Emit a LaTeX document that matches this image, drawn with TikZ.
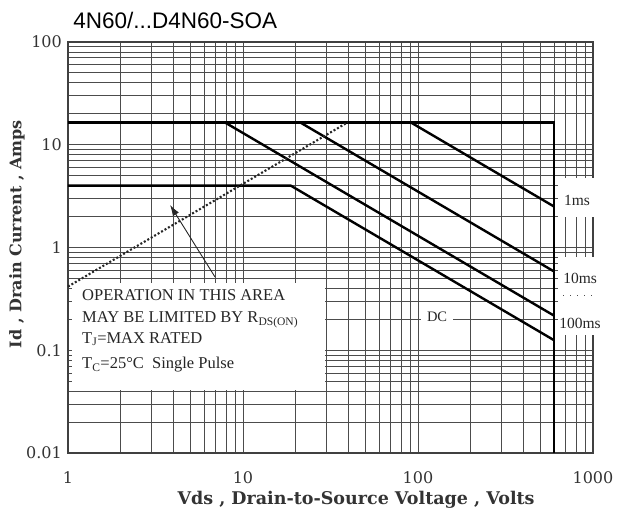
\documentclass[tikz,border=0pt]{standalone}
\usepackage{fontspec}
\setmainfont{Liberation Serif}
\newfontfamily\wideserif{DejaVu Serif}
\newfontfamily\titlesans{Liberation Sans}
\usetikzlibrary{arrows.meta}

\begin{document}
\begin{tikzpicture}[x=175pt,y=102.75pt]
        \tikzstyle{every node}+=[inner sep=0pt]
        \tikzstyle{gridline}=[black!70,line width=0.85pt]
        \tikzstyle{soaline}=[black,line width=2.4pt]
        \tikzstyle{ticklabel}=[font=\wideserif\fontsize{16}{16}\selectfont,text=black!80]
        \tikzstyle{axislabel}=[font=\wideserif\bfseries\fontsize{17.5}{17.5}\selectfont,text=black!80]
        \tikzstyle{curvelabel}=[font=\fontsize{15.5}{15.5}\selectfont,text=black!85]
        \tikzstyle{notetext}=[anchor=west,font=\fontsize{16.5}{16.5}\selectfont,text=black!85]
        \useasboundingbox (-68pt,-63pt) rectangle (554pt,453pt);
        % log grid
        \foreach \d in {0,1,2}
          \foreach \k in {2,...,9}
            \draw [gridline] ({\d+log10(\k)},0) -- ({\d+log10(\k)},4);
        \foreach \d in {0,1,2,3}
          \foreach \k in {2,...,9}
            \draw [gridline] (0,{\d+log10(\k)}) -- (3,{\d+log10(\k)});
        \draw [gridline] (1,0) -- (1,4);
        \draw [gridline] (2,0) -- (2,4);
        \foreach \d in {1,2,3}
          \draw [gridline] (0,\d) -- (3,\d);
        \draw [black!75,line width=1.2pt] (0,0) rectangle (3,4);
        \fill [white] (0.023,0.613) rectangle (1.469,1.655);
        \fill [white] (2.8,2.297) rectangle (3.02,2.676);
        \fill [white] (2.8,1.148) rectangle (3.02,1.908);
        % limits
        \coordinate (idm) at (0,{log10(16.5)+2});
        \coordinate (idmend) at ({log10(600)},{log10(16.5)+2});
        \coordinate (vdss) at ({log10(600)},0);
        \draw [soaline] (idm) -- (idmend) -- (vdss);
        \foreach \p in {1500,350,130}
          \draw [soaline] ({log10(\p/16.5)},{log10(16.5)+2}) -- ({log10(600)},{log10(\p/600)+2});
        \coordinate (idc) at (0,{log10(4)+2});
        \coordinate (dcknee) at ({log10(75/4)},{log10(4)+2});
        \coordinate (dcend) at ({log10(600)},{log10(75/600)+2});
        \draw [soaline] (idc) -- (dcknee) -- (dcend);
        \coordinate (ron0) at (0,{log10(1/2.4)+2});
        \coordinate (ron1) at ({log10(16.5*2.4)},{log10(16.5)+2});
        \draw [black!85,line width=2.1pt,dash pattern=on 2pt off 2pt] (ron0) -- (ron1);
        \coordinate (arrtail) at (0.84,1.713);
        \coordinate (arrtip) at (0.583,2.414);
        \draw [black!85,line width=0.9pt,-{Latex[length=11pt,width=7pt]}] (arrtail) -- (arrtip);
        % note
        \node [notetext] (op) at (0.08,1.538) {OPERATION IN THIS AREA};
        \node [notetext] (rds) at (0.08,1.294) {MAY BE LIMITED BY R\textsubscript{DS(ON)}};
        \node [notetext] (tj) at (0.08,1.11) {T\textsubscript{J}=MAX RATED};
        \node [notetext] (tc) at (0.08,0.856) {T\textsubscript{C}=25°C\ \ Single Pulse};
        \node [curvelabel] (l1ms) at (2.909,2.462) {1ms};
        \node [curvelabel] (l10ms) at (2.926,1.703) {10ms};
        \node [curvelabel] (l100ms) at (2.926,1.265) {100ms};
        \node [curvelabel,font=\fontsize{14.5}{14.5}\selectfont,fill=white,inner sep=6pt] (ldc) at (2.109,1.324) {DC};
        \draw [black!70,line width=1pt,dash pattern=on 1pt off 6pt] (2.83,1.528) -- (3.0,1.528);
        % axes
        \foreach \y/\t in {4/100,3/10,2/1,1/0.1,0/0.01}
          \node [ticklabel,anchor=east] (ytick\y) at (-0.034,\y) {\t};
        \foreach \x/\t in {0/1,1/10,2/100,3/1000}
          \node [ticklabel] (xtick\x) at (\x,-0.243) {\t};
        \node [axislabel] (xlabel) at (1.646,-0.457) {Vds , Drain-to-Source Voltage , Volts};
        \node [axislabel,font=\wideserif\bfseries\fontsize{16}{16}\selectfont,rotate=90] (ylabel) at (-0.291,2.131) {Id , Drain Current , Amps};
        \node [font=\titlesans\fontsize{22.5}{22.5}\selectfont,anchor=west] (title) at (0.029,4.214) {4N60/...D4N60-SOA};
\end{tikzpicture}
\end{document}
